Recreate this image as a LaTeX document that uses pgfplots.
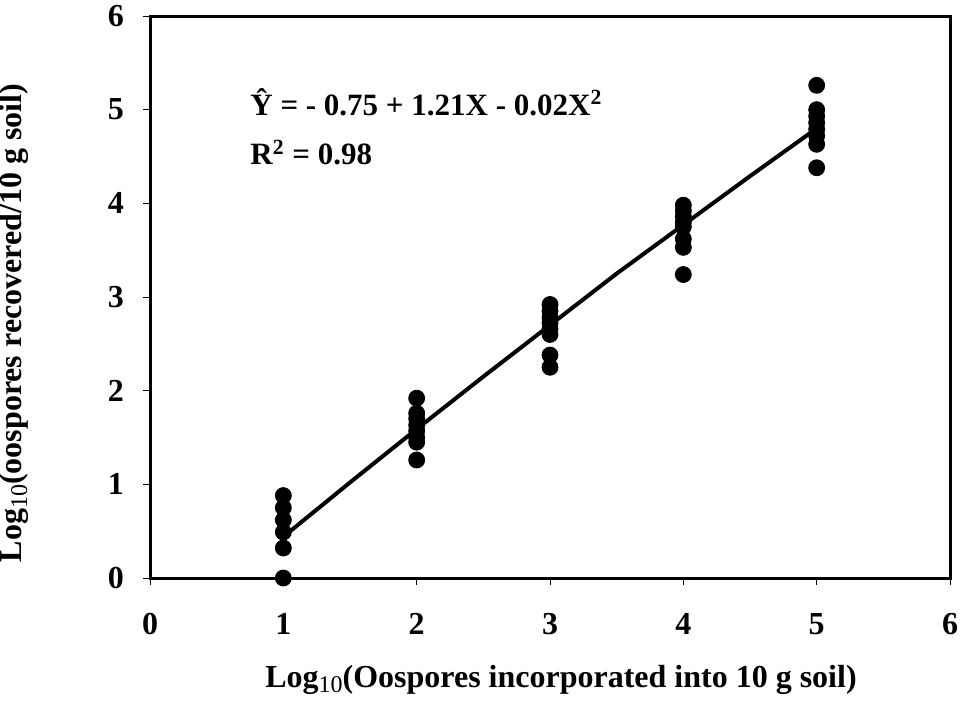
\documentclass[border=0pt]{standalone}
\usepackage{pgfplots}
\pgfplotsset{compat=1.18}
\usepackage{fontspec}
\setmainfont{Liberation Serif}
\begin{document}
\begin{tikzpicture}
\begin{axis}[
  name=ax,
  scale only axis,
  width=400pt, height=281pt,
  xmin=0, xmax=6, ymin=0, ymax=6,
  xtick={0,1,2,3,4,5,6}, ytick={0,1,2,3,4,5,6},
  axis line style={line width=1.5pt},
  tick style={black, line width=0.5pt},
  major tick length=3.5pt,
  tick align=outside,
  xtick pos=bottom, ytick pos=left,
  /pgf/number format/assume math mode=true,
  tick label style={font=\fontsize{16}{18}\selectfont\bfseries},
  xticklabel style={yshift=-10.5pt},
  yticklabel style={xshift=-6pt},
  clip=false,
]
\addplot[only marks, mark=*, mark size=4pt, black] coordinates {
 (1,0.88) (1,0.75) (1,0.62) (1,0.49) (1,0.32) (1,0.0)
 (2,1.92) (2,1.76) (2,1.70) (2,1.63) (2,1.57) (2,1.50) (2,1.45) (2,1.26)
 (3,2.92) (3,2.85) (3,2.78) (3,2.72) (3,2.66) (3,2.60) (3,2.38) (3,2.25)
 (4,3.98) (4,3.92) (4,3.86) (4,3.80) (4,3.75) (4,3.62) (4,3.53) (4,3.24)
 (5,5.26) (5,5.00) (5,4.93) (5,4.86) (5,4.79) (5,4.72) (5,4.63) (5,4.38)
};
\addplot[black, line width=2pt, no marks] coordinates {
 (1,0.44) (1.5,1.02) (2,1.59) (2.5,2.15) (3,2.70) (3.5,3.25) (4,3.77) (4.5,4.29) (5,4.80)
};
\node[anchor=base west, font=\fontsize{15.5}{18}\selectfont\bfseries, inner sep=0pt]
  at (axis cs:0.75,4.94) {\^{Y} = - 0.75 + 1.21X - 0.02X\textsuperscript{2}};
\node[anchor=base west, font=\fontsize{15.5}{18}\selectfont\bfseries, inner sep=0pt]
  at (axis cs:0.75,4.41) {R\textsuperscript{2} = 0.98};
\end{axis}
\node[font=\fontsize{16}{18}\selectfont\bfseries, anchor=base] at ([xshift=5.5pt,yshift=-54.5pt]ax.south)
  {Log\raisebox{-0.35ex}{\fontsize{12}{12}\selectfont\mdseries 10}(Oospores incorporated into 10 g soil)};
\node[font=\fontsize{16}{18}\selectfont\bfseries, rotate=90, anchor=base] at ([xshift=-64pt,yshift=-13pt]ax.west)
  {Log\raisebox{-0.35ex}{\fontsize{12}{12}\selectfont\mdseries 10}(oospores recovered/10 g soil)};
\pgfresetboundingbox
\path ([xshift=-75pt,yshift=-61pt]ax.south west) rectangle ([xshift=7.5pt,yshift=8pt]ax.north east);
\end{tikzpicture}
\end{document}
